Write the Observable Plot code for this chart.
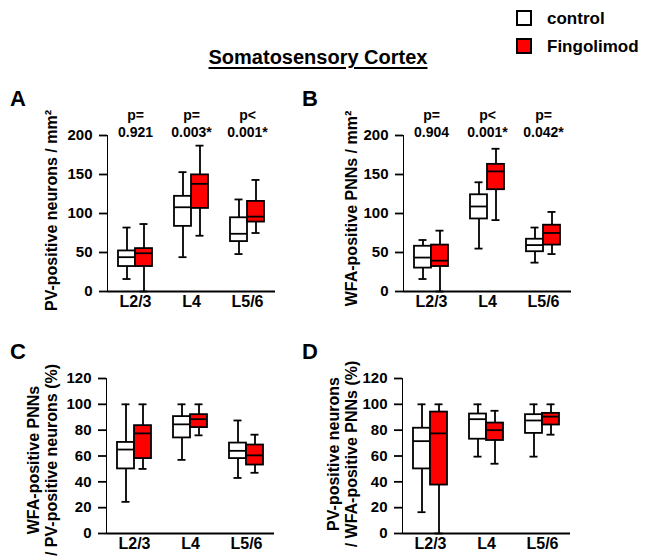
<!DOCTYPE html>
<html>
<head>
<meta charset="utf-8">
<script src="https://cdn.jsdelivr.net/npm/d3@7"></script>
<script src="https://cdn.jsdelivr.net/npm/@observablehq/plot@0.6"></script>
<style>
  body { margin: 0; background: white; }
  #root { position: relative; width: 649px; height: 560px; font-family: "Liberation Sans", Arial, sans-serif; font-weight: bold; color: black; overflow: hidden; }
  .letter { font-size: 22px; line-height: 22px; }
  .title { font-size: 20px; line-height: 20px; text-decoration: underline; text-underline-offset: 3px; }
  .leg-box { width: 12px; height: 12px; border: 2px solid black; }
  .leg-text { font-size: 17px; line-height: 17px; }
</style>
</head>
<body>
<div id="root"></div>
<script>
// ---- data ----
const layers = ["L2/3", "L4", "L5/6"];
const groups = ["control", "Fingolimod"];
const groupColors = ["white", "#ff0000"];

// five-number summaries [min, q1, median, q3, max] per layer
const aControl    = [[16, 32, 44, 52, 82], [44, 83.5, 108, 122, 153], [48, 64, 74, 94.5, 118]];
const aFingolimod = [[0, 32, 49, 55, 86.5], [71.5, 106.5, 138, 149.5, 187], [75, 89, 96, 115.5, 143]];
const bControl    = [[16, 30, 43.5, 58, 66], [55, 93, 109, 124, 140], [37, 51, 59.5, 67, 82]];
const bFingolimod = [[0, 32, 39.5, 59.5, 78], [91.5, 130.5, 154, 163, 183], [48, 59.5, 75, 85, 102]];
const cControl    = [[24.5, 50, 65, 70.5, 100], [57, 74, 84.5, 90.5, 100], [43, 58, 64, 70, 87.5]];
const cFingolimod = [[50, 58, 77.5, 83.5, 100], [76, 82, 88.5, 92, 100], [47, 53, 60.5, 68.5, 76.5]];
const dControl    = [[16.5, 50, 71.5, 81.5, 100], [59.5, 73, 88.5, 92.5, 100], [59.5, 77.5, 87.5, 92, 100]];
const dFingolimod = [[0, 37.5, 77.5, 94, 100], [54, 72, 80, 85.5, 95], [76.5, 84, 90.5, 93, 100]];

const pA = ["p=\n0.921", "p=\n0.003*", "p<\n0.001*"];
const pB = ["p=\n0.904", "p<\n0.001*", "p=\n0.042*"];

const ticksDensity = [0, 50, 100, 150, 200];
const ticksPercent = [0, 20, 40, 60, 80, 100, 120];

const labelA = "PV-positive neurons / mm²";
const labelB = "WFA-positive PNNs / mm²";
const labelC = "WFA-positive PNNs\n/ PV-positive neurons (%)";
const labelD = "PV-positive neurons\n/ WFA-positive PNNs (%)";

// ---- helpers ----
function rowsFrom(ctrl, fing) {
  const out = [];
  layers.forEach((layer, i) => {
    [ctrl, fing].forEach((arr, g) => {
      const [min, q1, med, q3, max] = arr[i];
      out.push({layer, group: groups[g], min, q1, med, q3, max});
    });
  });
  return out;
}

const FONT = "'Liberation Sans', Arial, sans-serif";
const SW = 1.8;

function panel({rows, yMax, ticks, pvals, label, labelDx, labelDy, width, height, mL, mR, mT, mB}) {
  const marks = [
    Plot.ruleY([0], {strokeWidth: SW}),
    Plot.ruleX(rows, {fx: "layer", x: "group", y1: "min", y2: "max", strokeWidth: SW}),
    Plot.tickY(rows, {fx: "layer", x: "group", y: "min", insetLeft: 4.5, insetRight: 4.5, strokeWidth: SW}),
    Plot.tickY(rows, {fx: "layer", x: "group", y: "max", insetLeft: 4.5, insetRight: 4.5, strokeWidth: SW}),
    Plot.rectY(rows, {fx: "layer", x: "group", y1: "q1", y2: "q3", fill: "group", stroke: "black", strokeWidth: SW}),
    Plot.tickY(rows, {fx: "layer", x: "group", y: "med", strokeWidth: SW}),
    Plot.axisFx({anchor: "bottom", tickSize: 0, tickPadding: 4, fontSize: 16, label: null}),
    Plot.text([{layer: layers[0], label}], {
      fx: "layer", text: "label", frameAnchor: "left", textAnchor: "middle", lineAnchor: "middle", rotate: -90,
      dx: labelDx, dy: labelDy, fontSize: 16, lineHeight: 1.12, fontWeight: "bold"
    })
  ];
  if (pvals) {
    marks.push(Plot.text(layers.map((layer, i) => ({layer, p: pvals[i]})), {
      fx: "layer", text: "p", frameAnchor: "top", lineAnchor: "bottom",
      dy: 1, fontSize: 14, lineHeight: 1.2, fontWeight: "bold"
    }));
  }
  const svg = Plot.plot({
    width, height,
    marginLeft: mL, marginRight: mR, marginTop: mT, marginBottom: mB,
    style: {fontFamily: FONT, fontWeight: "bold", fontSize: "15px", color: "black", background: "transparent", overflow: "visible"},
    fx: {domain: layers, padding: 0, axis: null},
    x: {domain: groups, axis: null, paddingInner: 0, paddingOuter: 0.62},
    y: {domain: [0, yMax], ticks, tickSize: 8, tickPadding: 7, label: null, line: true},
    color: {domain: groups, range: groupColors},
    marks
  });
  // thicken the axis line and ticks of the y axis
  svg.querySelectorAll("[aria-label='y-axis tick'], [aria-label='y-axis line']").forEach(g => g.setAttribute("stroke-width", SW));
  return svg;
}

const root = document.getElementById("root");
function place(el, left, top) {
  el.style.position = "absolute";
  el.style.left = left + "px";
  el.style.top = top + "px";
  root.appendChild(el);
}

place(panel({rows: rowsFrom(aControl, aFingolimod), yMax: 200, ticks: ticksDensity, pvals: pA, label: labelA,
  labelDx: -56, labelDy: -3, width: 300, height: 240, mL: 106, mR: 25, mT: 55, mB: 29}), 0, 80);
place(panel({rows: rowsFrom(bControl, bFingolimod), yMax: 200, ticks: ticksDensity, pvals: pB, label: labelB,
  labelDx: -52, labelDy: -5, width: 300, height: 240, mL: 102, mR: 28, mT: 55, mB: 29}), 300, 80);
place(panel({rows: rowsFrom(cControl, cFingolimod), yMax: 120, ticks: ticksPercent, pvals: null, label: labelC,
  labelDx: -64, labelDy: 4, width: 300, height: 230, mL: 105, mR: 25, mT: 48, mB: 27}), 0, 330);
place(panel({rows: rowsFrom(dControl, dFingolimod), yMax: 120, ticks: ticksPercent, pvals: null, label: labelD,
  labelDx: -60, labelDy: -2, width: 300, height: 230, mL: 101, mR: 29, mT: 48, mB: 27}), 300, 330);

// panel letters
[["A", 10, 88], ["B", 302, 88], ["C", 10, 341], ["D", 302, 341]].forEach(([t, x, y]) => {
  const d = document.createElement("div");
  d.className = "letter";
  d.textContent = t;
  place(d, x, y);
});

// title
const title = document.createElement("div");
title.className = "title";
title.textContent = "Somatosensory Cortex";
title.style.width = "636px";
title.style.textAlign = "center";
place(title, 0, 47);

// legend
groups.forEach((g, i) => {
  const box = document.createElement("div");
  box.className = "leg-box";
  box.style.background = groupColors[i];
  place(box, 516, 10 + i * 28);
  const t = document.createElement("div");
  t.className = "leg-text";
  t.textContent = g;
  place(t, 547, 10 + i * 28);
});
</script>
</body>
</html>
